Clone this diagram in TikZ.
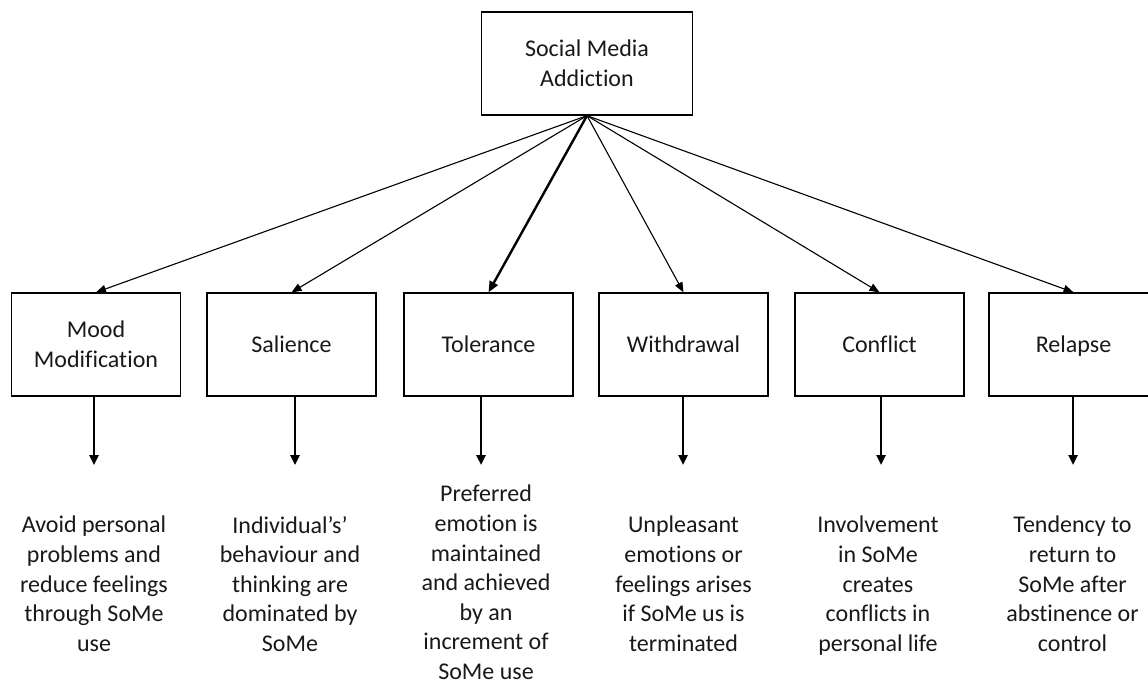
\documentclass[tikz,border=0pt]{standalone}
\usepackage{fontspec}
\setmainfont{Carlito}[Ligatures={NoCommon}]
\usetikzlibrary{arrows.meta}
\begin{document}
\begin{tikzpicture}[x=1pt,y=-1pt,
  txt/.style={font=\fontsize{24}{29.6}\selectfont, align=center, text=black!90},
  box/.style={txt, draw, line width=1.3pt, minimum width=169pt, minimum height=103pt, inner sep=0pt},
  desc/.style={txt, anchor=north, inner sep=0pt},
  fan/.style={line width=1.1pt, -{Triangle[length=10pt,width=8pt]}},
  fanbold/.style={line width=2.4pt, -{Triangle[length=11pt,width=9pt]}},
  drop/.style={line width=2.4pt, -{Triangle[length=10pt,width=9pt]}}
]
\clip (0,0) rectangle (1148,684);
\fill[white] (0,0) rectangle (1148,684);

% root
\node[box, minimum width=211pt] (root) at (587,63.5) {Social Media\\Addiction};

% the six components
\node[box] (mood) at (96,344.5)     {Mood\\Modification};
\node[box] (sal)  at (291.5,344.5)  {Salience};
\node[box] (tol)  at (488.5,344.5)  {Tolerance};
\node[box] (wd)   at (683.5,344.5)  {Withdrawal};
\node[box] (conf) at (879.5,344.5)  {Conflict};
\node[box, text depth=0pt] (rel) at (1073.5,344.5) {Relapse};

% fan-out from the root
\draw[fan]     (root.south) -- (mood.north);
\draw[fan]     (root.south) -- (sal.north);
\draw[fanbold] (root.south) -- (tol.north);
\draw[fan]     (root.south) -- (wd.north);
\draw[fan]     (root.south) -- (conf.north);
\draw[fan]     (root.south) -- (rel.north);

% ends of the downward arrows
\coordinate (moodend) at (94,465);
\coordinate (salend)  at (295,465);
\coordinate (tolend)  at (481,465);
\coordinate (wdend)   at (683,465);
\coordinate (confend) at (881,465);
\coordinate (relend)  at (1073,465);

\draw[drop] (mood.south -| moodend) -- (moodend);
\draw[drop] (sal.south -| salend)   -- (salend);
\draw[drop] (tol.south -| tolend)   -- (tolend);
\draw[drop] (wd.south -| wdend)     -- (wdend);
\draw[drop] (conf.south -| confend) -- (confend);
\draw[drop] (rel.south -| relend)   -- (relend);

% descriptions
\node[desc] (dmood) at (94,516)    {Avoid personal\\problems and\\reduce feelings\\through SoMe\\use};
\node[desc] (dsal)  at (290,516)   {Individual's’\\behaviour and\\thinking are\\dominated by\\SoMe};
\node[desc] (dtol)  at (486,485)   {Preferred\\emotion is\\maintained\\and achieved\\by an\\increment of\\SoMe use};
\node[desc] (dwd)   at (683.5,516) {Unpleasant\\emotions or\\feelings arises\\if SoMe us is\\terminated};
\node[desc] (dconf) at (878,516)   {Involvement\\in SoMe\\creates\\conflicts in\\personal life};
\node[desc] (drel)  at (1072.5,516) {Tendency to\\return to\\SoMe after\\abstinence or\\control};
\end{tikzpicture}
\end{document}
